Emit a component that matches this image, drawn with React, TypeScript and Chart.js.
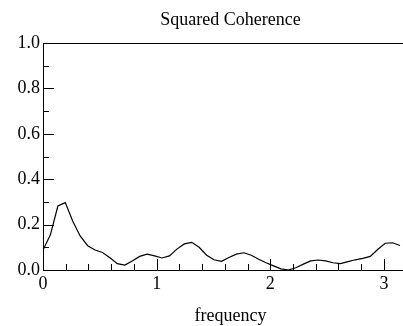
import React, { useEffect, useRef } from 'react';
import { Chart, registerables } from 'chart.js';

Chart.register(...registerables);

const TITLE = 'Squared Coherence';
const X_LABEL = 'frequency';

const FREQUENCY = [
  0, 0.065, 0.131, 0.196, 0.262, 0.327, 0.393, 0.458, 0.524, 0.589,
  0.654, 0.72, 0.785, 0.851, 0.916, 0.982, 1.047, 1.113, 1.178, 1.244,
  1.309, 1.374, 1.44, 1.505, 1.571, 1.636, 1.702, 1.767, 1.833, 1.898,
  1.963, 2.029, 2.094, 2.16, 2.225, 2.291, 2.356, 2.421, 2.487, 2.552,
  2.618, 2.683, 2.749, 2.814, 2.88, 2.945, 3.011, 3.076, 3.142,
];

const COHERENCE = [
  0.088, 0.155, 0.282, 0.297, 0.215, 0.15, 0.107, 0.088, 0.077, 0.054,
  0.028, 0.022, 0.04, 0.06, 0.07, 0.062, 0.053, 0.062, 0.092, 0.115,
  0.122, 0.1, 0.065, 0.045, 0.038, 0.055, 0.07, 0.076, 0.065, 0.047,
  0.032, 0.018, 0.005, 0.0, 0.01, 0.026, 0.04, 0.044, 0.04, 0.032,
  0.028, 0.037, 0.045, 0.051, 0.06, 0.09, 0.118, 0.12, 0.108,
];

const X_MIN = 0;
const X_MAX = 3.3;
const X_STEP = 0.2;
const Y_MIN = 0;
const Y_MAX = 1;
const Y_STEP = 0.1;

const FONT = 'Liberation Serif';

const isXMajor = (v: number) => Math.abs(v - Math.round(v)) < 1e-6;
const isYMajor = (v: number) => Math.round(v * 10) % 2 === 0;

const innerTicks = {
  id: 'innerTicks',
  afterDraw(chart: any) {
    const { ctx, chartArea, scales } = chart;
    const { left, right, top, bottom } = chartArea;
    ctx.save();
    ctx.strokeStyle = '#000';
    ctx.lineWidth = 1;
    ctx.beginPath();
    ctx.moveTo(left, Math.round(top) + 0.5);
    ctx.lineTo(right, Math.round(top) + 0.5);
    scales.x.ticks.forEach((t: any) => {
      const px = Math.round(scales.x.getPixelForValue(t.value)) + 0.5;
      ctx.moveTo(px, bottom);
      ctx.lineTo(px, bottom - (isXMajor(t.value) ? 11 : 6));
    });
    scales.y.ticks.forEach((t: any) => {
      const py = Math.round(scales.y.getPixelForValue(t.value)) + 0.5;
      ctx.moveTo(left, py);
      ctx.lineTo(left + (isYMajor(t.value) ? 11 : 6), py);
    });
    ctx.stroke();
    ctx.restore();
  },
};

export default function App() {
  const ref = useRef<HTMLCanvasElement | null>(null);

  useEffect(() => {
    if (!ref.current) return;
    const chart = new Chart(ref.current, {
      type: 'line',
      data: {
        datasets: [
          {
            data: FREQUENCY.map((f, i) => ({ x: f, y: COHERENCE[i] })),
            borderColor: '#000',
            borderWidth: 1.2,
            pointRadius: 0,
            tension: 0,
            fill: false,
          },
        ],
      },
      options: {
        animation: false,
        responsive: false,
        layout: { padding: { left: 0, top: 0, bottom: 0, right: 32 } },
        plugins: {
          legend: { display: false },
          tooltip: { enabled: false },
          title: {
            display: true,
            fullSize: false,
            text: TITLE,
            color: '#000',
            font: { family: FONT, size: 18, weight: 'normal', lineHeight: 1.2 },
            padding: { top: 9, bottom: 12.4 },
          },
        },
        scales: {
          x: {
            type: 'linear',
            min: X_MIN,
            max: X_MAX,
            afterFit: (s: any) => {
              s.height = 56;
            },
            grid: { display: true, drawOnChartArea: false, drawTicks: false },
            border: { display: true, color: '#000', width: 1 },
            ticks: {
              stepSize: X_STEP,
              includeBounds: false,
              autoSkip: false,
              maxRotation: 0,
              padding: 3,
              color: '#000',
              font: { family: FONT, size: 18 },
              callback: (v: any) => (isXMajor(Number(v)) ? String(Math.round(Number(v))) : ''),
            },
            title: {
              display: true,
              text: X_LABEL,
              color: '#000',
              font: { family: FONT, size: 18, lineHeight: 1 },
              padding: { top: 0, bottom: 1 },
            },
          },
          y: {
            type: 'linear',
            min: Y_MIN,
            max: Y_MAX,
            afterFit: (s: any) => {
              s.width = 43;
            },
            grid: { display: true, drawOnChartArea: false, drawTicks: false },
            border: { display: true, color: '#000', width: 1 },
            ticks: {
              stepSize: Y_STEP,
              autoSkip: false,
              padding: 3,
              color: '#000',
              font: { family: FONT, size: 18 },
              callback: (v: any) => (isYMajor(Number(v)) ? Number(v).toFixed(1) : ''),
            },
          },
        },
      },
      plugins: [innerTicks],
    } as any);
    return () => chart.destroy();
  }, []);

  return (
    <div style={{ position: 'fixed', left: 0, top: 0, width: 403, height: 326, overflow: 'hidden', background: '#fff' }}>
      <canvas ref={ref} width={450} height={326} />
    </div>
  );
}
